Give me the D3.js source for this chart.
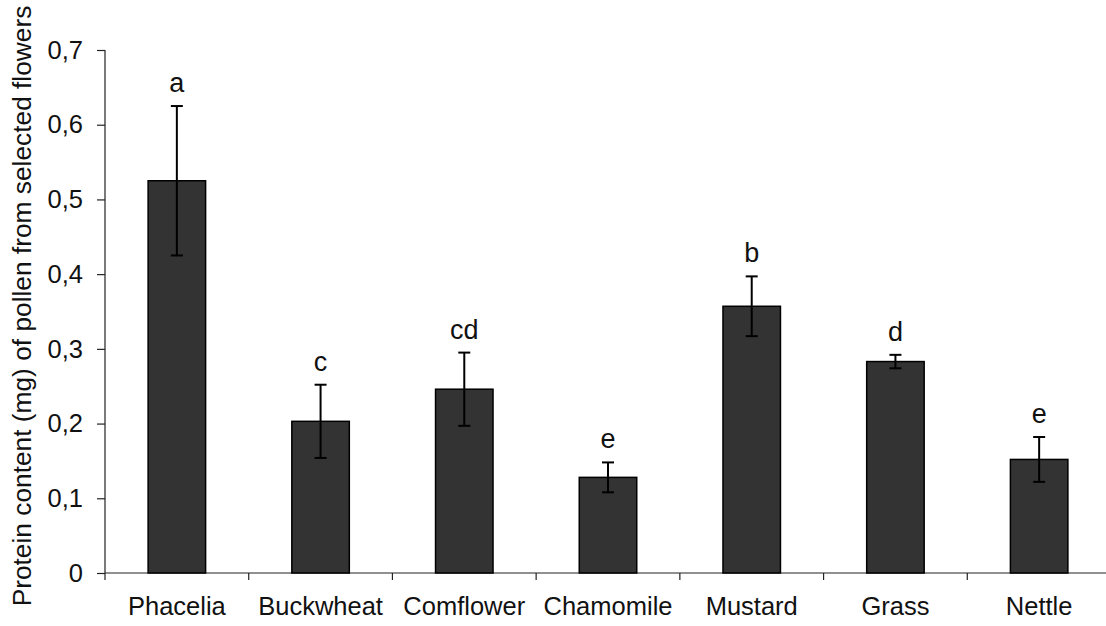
<!DOCTYPE html>
<html>
<head>
<meta charset="utf-8">
<script src="https://cdn.jsdelivr.net/npm/d3@7"></script>
<style>
  html, body { margin: 0; padding: 0; background: #fff; }
  svg { display: block; }
  text { font-family: "Liberation Sans", Arial, sans-serif; fill: #111; }
</style>
</head>
<body>
<svg id="chart" width="1106" height="626"></svg>
<script>
const categories = ["Phacelia", "Buckwheat", "Comflower", "Chamomile", "Mustard", "Grass", "Nettle"];
const means = [0.525, 0.203, 0.246, 0.128, 0.357, 0.283, 0.152];
const errors = [0.100, 0.049, 0.049, 0.020, 0.040, 0.009, 0.030];
const letters = ["a", "c", "cd", "e", "b", "d", "e"];
const yTicks = [0, 0.1, 0.2, 0.3, 0.4, 0.5, 0.6, 0.7];
const yTickLabels = ["0", "0,1", "0,2", "0,3", "0,4", "0,5", "0,6", "0,7"];
const yTitle = "Protein content (mg) of pollen from selected flowers";

(function () {
const svg = d3.select("#chart");
const mLeft = 105, mRight = 1111, mTop = 50, mBottom = 573;

const x = d3.scaleBand().domain(categories).range([mLeft, mRight]).padding(0);
const y = d3.scaleLinear().domain([0, 0.7]).range([mBottom, mTop]);

const barW = x.bandwidth() * 0.4;

// Y axis
const yAxis = d3.axisLeft(y).tickValues(yTicks)
  .tickFormat((d, i) => yTickLabels[i]).tickSize(8).tickPadding(14);
const gy = svg.append("g").attr("transform", `translate(${mLeft},0)`).call(yAxis);
gy.select(".domain").remove();
gy.selectAll(".tick line").attr("stroke", "#222").attr("stroke-width", 1.2);
gy.selectAll(".tick text").attr("font-size", 25.5).style("font-family", "'Liberation Sans', Arial, sans-serif").attr("fill", "#111");
svg.append("line").attr("x1", mLeft).attr("x2", mLeft).attr("y1", y(0.7)).attr("y2", mBottom + 7)
  .attr("stroke", "#222").attr("stroke-width", 1.2);

// X axis labels
const xAxis = d3.axisBottom(x).tickSize(0).tickPadding(24);
const gx = svg.append("g").attr("transform", `translate(0,${mBottom})`).call(xAxis);
gx.select(".domain").remove();
gx.selectAll(".tick text").attr("font-size", 25.5).style("font-family", "'Liberation Sans', Arial, sans-serif").attr("fill", "#111");
svg.append("line").attr("x1", mLeft).attr("x2", mRight).attr("y1", mBottom).attr("y2", mBottom)
  .attr("stroke", "#222").attr("stroke-width", 1.2);
// boundary ticks
svg.append("g").selectAll("line").data(categories.slice(1)).join("line")
  .attr("x1", d => x(d)).attr("x2", d => x(d))
  .attr("y1", mBottom).attr("y2", mBottom + 7)
  .attr("stroke", "#222").attr("stroke-width", 1.2);

// Bars
svg.append("g").selectAll("rect").data(categories).join("rect")
  .attr("x", d => x(d) + x.bandwidth() / 2 - barW / 2)
  .attr("width", barW)
  .attr("y", (d, i) => y(means[i]))
  .attr("height", (d, i) => mBottom - y(means[i]))
  .attr("fill", "#333333")
  .attr("stroke", "#000")
  .attr("stroke-width", 1.5);

// Error bars
const eg = svg.append("g").attr("stroke", "#000").attr("stroke-width", 2);
categories.forEach((c, i) => {
  const cx = x(c) + x.bandwidth() / 2;
  const hi = y(means[i] + errors[i]), lo = y(means[i] - errors[i]);
  eg.append("line").attr("x1", cx).attr("x2", cx).attr("y1", hi).attr("y2", lo);
  eg.append("line").attr("x1", cx - 6).attr("x2", cx + 6).attr("y1", hi).attr("y2", hi);
  eg.append("line").attr("x1", cx - 6).attr("x2", cx + 6).attr("y1", lo).attr("y2", lo);
});

// Significance letters
svg.append("g").selectAll("text").data(categories).join("text")
  .attr("x", d => x(d) + x.bandwidth() / 2)
  .attr("y", (d, i) => y(means[i] + errors[i]) - 14)
  .attr("text-anchor", "middle")
  .attr("font-size", 27)
  .text((d, i) => letters[i]);

// Y title
svg.append("text")
  .attr("transform", `translate(31,306) rotate(-90)`)
  .attr("text-anchor", "middle")
  .attr("font-size", 26.3)
  .text(yTitle);
})();
</script>
</body>
</html>
